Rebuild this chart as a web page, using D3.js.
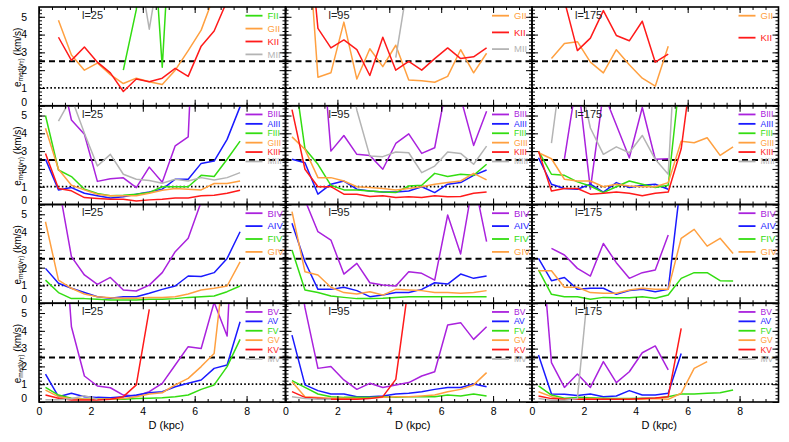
<!DOCTYPE html>
<html><head><meta charset="utf-8">
<script src="https://cdn.jsdelivr.net/npm/d3@7"></script>
<style>
body{margin:0;background:#fff}
svg{display:block}
text{font-family:"Liberation Sans",Arial,Helvetica,sans-serif}
</style>
</head><body>
<svg id="c" width="789" height="442"></svg>
<script>
// ---------------- DATA ----------------
const distances = [0.25,0.75,1.25,1.75,2.25,2.75,3.25,3.75,4.25,4.75,5.25,5.75,6.25,6.75,7.25,7.75];
const longitudes = ["l=25","l=95","l=175"];
const xTicks = [0,2,4,6,8];
const yTicks = [0,1,2,3,4,5];
const refDashed = 2.5;
const refDotted = 1.0;
const n = null;

// Row 1 : luminosity class II
const l25_FII = [n,n,n,n,n,n,2.0,5.4,13,2.17,15];
const l25_GII = [n,4.8,2.85,2.0,2.4,1.75,1.25,1.55,1.35,1.2,2.0,3.1,4.25,6.2];
const l25_KII = [n,3.85,2.55,3.3,2.45,1.85,0.8,1.5,1.35,1.55,2.1,1.65,3.35,4.2,5.9];
const l25_MII = [n,n,n,n,n,n,n,8.7,4.3,8.7];
const l95_GII = [n,12,1.6,1.85,4.7,1.5,3.2,2.2,3.4,1.45,1.4,1.32,1.65,3.15,1.85,2.95];
const l95_KII = [n,12,4.35,3.25,3.7,3.15,1.7,3.85,2.0,2.5,2.0,2.65,3.25,2.65,2.75,3.25];
const l95_MII = [n,n,n,n,n,n,n,n,2.7,7.2];
const l175_GII = [n,2.65,3.5,3.6,2.45,1.85,3.15,2.3,1.55,1.1,3.35];
const l175_KII = [n,n,5.9,3.1,3.8,5.35,3.95,3.65,4.75,2.45,2.9];

// Row 2 : class III
const l25_BIII = [n,8,4.75,3.95,1.3,1.45,1.5,0.95,2.1,1.25,3.3,3.8,20];
const l25_AIII = [2.55,0.82,0.95,0.63,0.49,0.36,0.43,0.58,0.71,0.86,1.42,1.42,2.31,2.44,3.66,5.5];
const l25_FIII = [5.0,1.94,1.57,0.86,0.62,0.49,0.52,0.58,0.67,1.0,1.0,1.0,1.64,1.57,2.54,3.56];
const l25_GIII = [4.29,1.98,1.08,0.82,0.58,0.49,0.49,0.49,0.63,0.8,0.9,0.86,0.82,1.18,1.18,1.32];
const l25_KIII = [2.87,0.9,0.77,0.39,0.34,0.3,0.3,0.2,0.26,0.3,0.37,0.37,0.49,0.52,0.63,0.8];
const l25_MIII = [n,4.68,6.0,4.0,2.16,2.82,1.7,1.42,1.35,1.19,1.42,1.32,1.51,1.38,1.51,1.79];
const l95_BIII = [n,n,12,3.0,3.88,2.82,2.76,1.98,3.43,3.97,2.87,3.19,7,6,3.32,5.24];
const l95_AIII = [2.54,2.35,0.58,1.14,1.32,0.86,0.76,0.7,0.7,0.76,1.0,0.67,1.14,1.23,1.64,1.94];
const l95_FIII = [8.3,3.13,2.26,1.08,0.82,0.82,0.76,0.7,0.67,1.04,1.08,1.75,1.57,1.7,1.64,2.26];
const l95_GIII = [3.8,3.1,1.51,1.51,1.32,1.0,0.95,0.9,0.82,0.9,1.0,1.14,1.23,1.32,1.75,1.38];
const l95_KIII = [5.33,1.98,1.0,1.0,0.58,0.58,0.45,0.49,0.39,0.43,0.39,0.49,0.43,0.45,0.63,0.7];
const l95_MIII = [n,n,n,n,9,5.3,2.72,2.69,2.95,2.91,1.79,2.16,2.95,2.87,2.26,3.28];
const l175_BIII = [n,n,2.57,7.2,0.86,6.3,4.47,2.63,5.45,2.54,2.57];
const l175_AIII = [2.63,1.14,0.9,0.86,1.14,0.7,1.23,0.95,1.08,1.14,0.86];
const l175_FIII = [3.0,1.7,1.64,1.27,1.04,0.67,1.0,1.32,1.14,0.95,1.08,7.8];
const l175_GIII = [2.91,2.57,1.42,1.32,1.32,1.0,1.14,1.04,1.0,1.0,1.23,3.56,3.47,3.75,2.76,3.24];
const l175_KIII = [3.0,0.76,0.9,0.9,0.58,0.63,0.7,0.63,0.49,0.63,0.7,3.13,8.7];
const l175_MIII = [n,3.45,9,7.6,4.3,2.82,3.24,2.91,3.88,2.54,1.7,15];

// Row 3 : class IV
const l25_BIV = [n,6.7,2.62,1.59,1.06,1.45,0.74,0.69,1.02,1.72,2.9,3.65,5.7];
const l25_AIV = [1.96,1.12,0.84,0.6,0.37,0.28,0.37,0.37,0.56,0.78,0.97,1.53,1.5,1.72,2.52,4.02];
const l25_FIV = [1.3,0.6,0.26,0.26,0.22,0.18,0.18,0.18,0.22,0.22,0.26,0.33,0.37,0.41,0.65,0.97];
const l25_GIV = [4.58,1.3,0.84,0.52,0.37,0.31,0.28,0.28,0.33,0.33,0.37,0.52,0.74,0.84,0.97,2.33];
const l95_BIV = [n,5.8,4.02,3.55,1.64,2.24,1.15,1.02,0.97,1.77,1.68,1.3,4.96,2.77,7,3.46];
const l95_AIV = [4.49,2.33,0.78,0.78,0.9,0.71,0.37,0.46,0.6,0.6,0.78,1.15,1.08,1.64,1.4,1.53];
const l95_FIV = [2.99,0.74,0.6,0.41,0.33,0.26,0.26,0.28,0.33,0.37,0.37,0.37,0.37,0.37,0.37,0.37];
const l95_GIV = [5.15,1.77,1.59,0.9,0.6,0.52,0.65,0.46,0.78,0.74,0.71,0.6,0.6,0.56,0.6,0.71];
const l175_BIV = [n,3.08,2.71,1.96,1.53,3.36,2.28,1.4,1.72,1.87,3.83];
const l175_AIV = [2.52,1.27,1.45,0.78,0.84,0.84,0.5,0.71,0.78,0.65,0.78,7];
const l175_FIV = [1.87,0.5,0.37,0.37,0.22,0.33,0.31,0.31,0.37,0.28,0.46,1.4,1.72,1.72,1.27,1.25];
const l175_GIV = [1.83,1.83,0.9,0.9,0.6,0.56,0.56,0.74,0.84,0.78,0.78,3.65,4.15,3.21,3.65,2.8];

// Row 4 : class V
const l25_BV = [n,14,4.23,1.46,0.9,0.8,0.39,0.34,0.58,1.05,2.08,3.11,3.01,5.6,3.71,18];
const l25_AV = [1.57,0.3,0.49,0.3,0.26,0.24,0.3,0.39,0.52,0.58,0.86,1.05,1.24,1.89,2.08,4.51];
const l25_FV = [0.82,0.39,0.21,0.15,0.15,0.15,0.15,0.19,0.21,0.24,0.3,0.39,0.71,0.96,1.99,3.52];
const l25_GV = [0.67,0.3,0.19,0.15,0.15,0.15,0.19,0.3,0.45,0.52,0.96,1.33,1.99,2.73,9.2];
const l25_KV = [0.39,0.21,0.11,0.11,0.11,0.15,0.3,0.96,5.2];
const l25_MV = [0.12,0.12,0.18,0.35,0.15];
const l95_BV = [10,5.3,1.89,1.99,1.24,0.71,1.05,0.82,0.96,1.09,1.46,1.7,4.33,4.46,3.52,4.23];
const l95_AV = [3.76,0.96,0.64,0.45,0.45,0.3,0.3,0.34,0.45,0.49,0.58,0.71,0.82,0.82,1.01,0.86];
const l95_FV = [1.2,0.82,0.45,0.3,0.26,0.26,0.26,0.3,0.26,0.3,0.3,0.3,0.39,0.34,0.45,0.34];
const l95_GV = [1.14,0.3,0.26,0.21,0.21,0.19,0.21,0.26,0.3,0.3,0.34,0.39,0.58,0.71,0.96,1.65];
const l95_KV = [0.58,0.26,0.21,0.15,0.15,0.15,0.19,0.3,1.27,6.65];
const l95_MV = [0.3,0.2,0.15,0.15];
const l175_BV = [11,2.21,0.82,1.57,0.82,2.27,1.09,1.7,2.77,3.15,1.8];
const l175_AV = [2.64,0.45,0.43,0.37,0.45,0.3,0.34,0.64,0.39,0.39,0.49,2.73];
const l175_FV = [0.9,0.39,0.21,0.26,0.24,0.21,0.19,0.19,0.21,0.21,0.3,0.45,0.45,0.49,0.52,0.67];
const l175_GV = [0.58,0.3,0.15,0.15,0.19,0.15,0.15,0.15,0.15,0.19,0.15,0.49,1.89,2.27];
const l175_KV = [0.34,0.19,0.15,0.15,0.15,0.15,0.15,0.15,0.19,0.22,0.3,4.14];
const l175_MV = [0.2,0.1,0.1,0.2,7.7];

// ---------------- PANELS ----------------
const panels = [
  {row:0,col:0,series:[["FII",l25_FII],["GII",l25_GII],["KII",l25_KII],["MII",l25_MII]]},
  {row:0,col:1,series:[["GII",l95_GII],["KII",l95_KII],["MII",l95_MII]]},
  {row:0,col:2,series:[["GII",l175_GII],["KII",l175_KII]]},
  {row:1,col:0,series:[["BIII",l25_BIII],["AIII",l25_AIII],["FIII",l25_FIII],["GIII",l25_GIII],["KIII",l25_KIII],["MIII",l25_MIII]]},
  {row:1,col:1,series:[["BIII",l95_BIII],["AIII",l95_AIII],["FIII",l95_FIII],["GIII",l95_GIII],["KIII",l95_KIII],["MIII",l95_MIII]]},
  {row:1,col:2,series:[["BIII",l175_BIII],["AIII",l175_AIII],["FIII",l175_FIII],["GIII",l175_GIII],["KIII",l175_KIII],["MIII",l175_MIII]]},
  {row:2,col:0,series:[["BIV",l25_BIV],["AIV",l25_AIV],["FIV",l25_FIV],["GIV",l25_GIV]]},
  {row:2,col:1,series:[["BIV",l95_BIV],["AIV",l95_AIV],["FIV",l95_FIV],["GIV",l95_GIV]]},
  {row:2,col:2,series:[["BIV",l175_BIV],["AIV",l175_AIV],["FIV",l175_FIV],["GIV",l175_GIV]]},
  {row:3,col:0,series:[["BV",l25_BV],["AV",l25_AV],["FV",l25_FV],["GV",l25_GV],["KV",l25_KV],["MV",l25_MV]]},
  {row:3,col:1,series:[["BV",l95_BV],["AV",l95_AV],["FV",l95_FV],["GV",l95_GV],["KV",l95_KV],["MV",l95_MV]]},
  {row:3,col:2,series:[["BV",l175_BV],["AV",l175_AV],["FV",l175_FV],["GV",l175_GV],["KV",l175_KV],["MV",l175_MV]]}
];

const typeColor = {B:"#aa22dd",A:"#1a1aff",F:"#33dd11",G:"#ffa040",K:"#ff1a1a",M:"#b4b4b4"};
const legendSpacing = {2:22,3:16.7,4:12.9,6:9.4};

// ---------------- LAYOUT ----------------
const L = 39, T = 7, PW = 246.5, PH = 98.75;
const svg = d3.select("#c");
const x = d3.scaleLinear().domain([0,9.5]).range([0,PW]);
const y = d3.scaleLinear().domain([0,5.55]).range([PH,0]);
const yMinor = d3.range(0,5.55,0.2);
const xMinor = d3.range(0,9.5,0.5);

const line = d3.line()
  .defined(d => d[1] != null)
  .x(d => x(d[0])).y(d => y(d[1]));

panels.forEach((p,pi) => {
  const g = svg.append("g").attr("transform",`translate(${L+p.col*PW},${T+p.row*PH})`);
  const cid = "clip"+pi;
  g.append("clipPath").attr("id",cid).append("rect").attr("width",PW).attr("height",PH);

  // reference lines
  g.append("line").attr("x1",0).attr("x2",PW).attr("y1",y(refDashed)).attr("y2",y(refDashed))
    .attr("stroke","#000").attr("stroke-width",1.8).attr("stroke-dasharray","6,4");
  g.append("line").attr("x1",0).attr("x2",PW).attr("y1",y(refDotted)).attr("y2",y(refDotted))
    .attr("stroke","#000").attr("stroke-width",1.8).attr("stroke-dasharray","1.6,2.2");

  const dg = g.append("g").attr("clip-path",`url(#${cid})`);
  p.series.forEach(([name,vals]) => {
    const pts = distances.map((d,i) => [d, vals[i] === undefined ? null : vals[i]]);
    dg.append("path").datum(pts).attr("d",line)
      .attr("fill","none").attr("stroke",typeColor[name[0]])
      .attr("stroke-width",1.5).attr("stroke-linejoin","round");
  });

  // axes ticks (inward)
  const mk = (axis, tx, ty, vals, size) => {
    const a = g.append("g").attr("transform",`translate(${tx},${ty})`)
      .call(axis.tickValues(vals).tickSize(size).tickFormat(""));
    a.select(".domain").remove();
    a.selectAll("line").attr("stroke","#000").attr("stroke-width",1);
    return a;
  };
  mk(d3.axisLeft(y),0,0,yTicks,-6);
  mk(d3.axisLeft(y),0,0,yMinor,-3);
  mk(d3.axisRight(y),PW,0,yTicks,-6);
  mk(d3.axisRight(y),PW,0,yMinor,-3);
  mk(d3.axisBottom(x),0,PH,xTicks,-6);
  mk(d3.axisBottom(x),0,PH,xMinor,-3);
  mk(d3.axisTop(x),0,0,xTicks,-6);
  mk(d3.axisTop(x),0,0,xMinor,-3);

  // y tick labels for first column
  if (p.col === 0) {
    const ay = g.append("g").call(d3.axisLeft(y).tickValues(yTicks).tickSize(0).tickPadding(12).tickFormat(d3.format("d")));
    ay.select(".domain").remove();
    ay.selectAll("text").attr("font-size",10.5).attr("fill","#000")
      .attr("dy", d => d === 0 ? "-0.05em" : "0.32em");
    // y axis title
    const t = svg.append("text")
      .attr("transform",`translate(20.5,${T+p.row*PH+PH/2+1}) rotate(-90)`)
      .attr("text-anchor","middle").attr("font-size",10).attr("fill","#000");
    t.append("tspan").text("e");
    t.append("tspan").attr("font-size",6.5).attr("dy",2).text("med(v");
    t.append("tspan").attr("font-size",5).attr("dy",1.2).text("T");
    t.append("tspan").attr("font-size",6.5).attr("dy",-1.2).text(")");
    t.append("tspan").attr("dy",-2).text(" (km/s)");
  }
  // x tick labels for bottom row
  if (p.row === 3) {
    const ax = g.append("g").attr("transform",`translate(0,${PH})`)
      .call(d3.axisBottom(x).tickValues(xTicks).tickSize(0).tickPadding(6).tickFormat(d3.format("d")));
    ax.select(".domain").remove();
    ax.selectAll("text").attr("font-size",10.5).attr("fill","#000");
    g.append("text").attr("x",PW/2+4).attr("y",PH+27).attr("text-anchor","middle")
      .attr("font-size",11).attr("fill","#000").text("D (kpc)");
  }

  // frame
  g.append("rect").attr("width",PW).attr("height",PH).attr("fill","none")
    .attr("stroke","#000").attr("stroke-width",1.6);

  // longitude label
  g.append("text").attr("x",43).attr("y",8).attr("dy","0.35em")
    .attr("font-size",11).attr("fill","#222").text(longitudes[p.col]);

  // legend
  const sp = legendSpacing[p.series.length];
  const fs = p.series.length > 4 ? 8.5 : 9.5;
  p.series.forEach(([name],i) => {
    const yy = 8.7 + i*sp;
    g.append("line").attr("x1",PW-40).attr("x2",PW-23).attr("y1",yy).attr("y2",yy)
      .attr("stroke",typeColor[name[0]]).attr("stroke-width",1.8);
    g.append("text").attr("x",PW-18).attr("y",yy).attr("dy","0.35em")
      .attr("font-size",fs).attr("fill",typeColor[name[0]]).text(name);
  });
});
</script>
</body></html>
